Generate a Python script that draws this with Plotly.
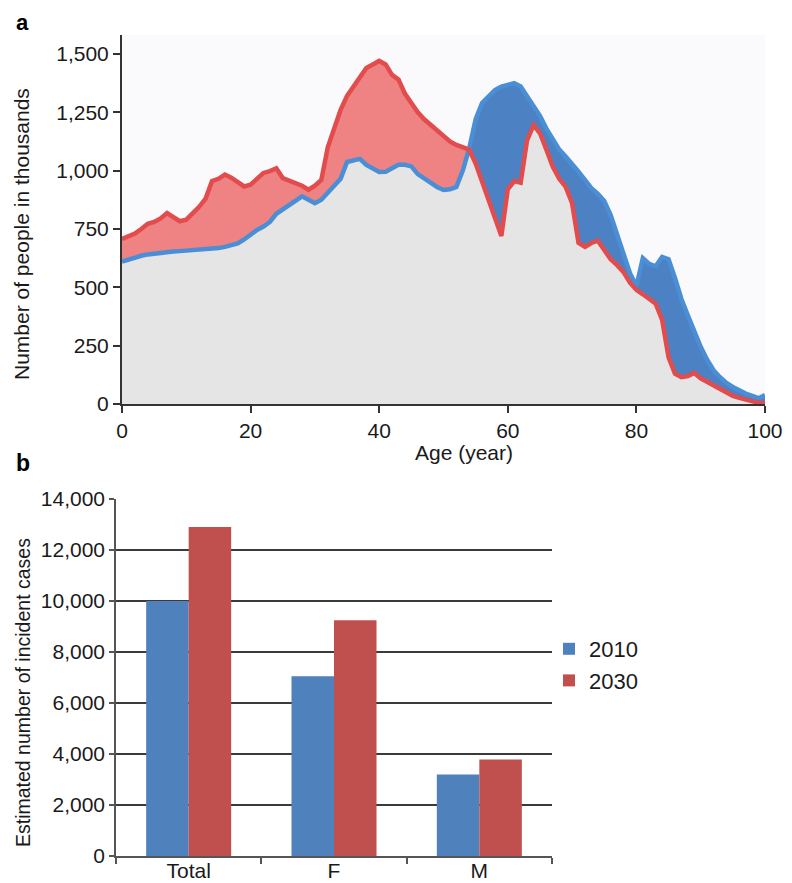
import numpy as np
import plotly.graph_objects as go

# ---------------- Data ----------------
ages = list(range(0, 101))

pop_2010 = [610, 620, 628, 635, 641, 645, 648, 651, 653, 655,
            657, 658, 660, 662, 665, 668, 673, 680, 688, 705,
            728, 746, 760, 780, 815, 835, 850, 870, 890, 875,
            860, 875, 905, 935, 965, 1037, 1045, 1050, 1024, 1010,
            994, 995, 1010, 1025, 1025, 1018, 985, 965, 950, 930,
            917, 920, 930, 1000, 1095, 1220, 1290, 1320, 1345, 1360,
            1370, 1375, 1360, 1320, 1280, 1235, 1180, 1131, 1090, 1060,
            1030, 995, 960, 925, 900, 870, 810, 730, 650, 560,
            505, 625, 600, 590, 630, 620, 540, 450, 380, 310,
            245, 190, 145, 115, 90, 73, 58, 45, 35, 25,
            38]

pop_2030 = [707, 718, 730, 750, 772, 780, 795, 818, 800, 783,
            790, 815, 845, 880, 955, 965, 983, 970, 950, 932,
            940, 965, 990, 998, 1010, 968, 958, 950, 935, 918,
            935, 960, 1100, 1180, 1260, 1320, 1360, 1400, 1440, 1455,
            1470, 1455, 1410, 1390, 1330, 1290, 1250, 1220, 1195, 1170,
            1145, 1125, 1110, 1100, 1090, 1030, 950, 870, 790, 720,
            920, 955, 948, 1130, 1195, 1160, 1090, 1016, 965, 930,
            860, 690, 673, 690, 700, 660, 620, 595, 565, 520,
            489, 470, 450, 430, 360, 200, 130, 115, 120, 133,
            110, 94, 80, 62, 48, 35, 26, 18, 10, 5,
            3]

age_ticks = [0, 20, 40, 60, 80, 100]
pop_ticks = [0, 250, 500, 750, 1000, 1250, 1500]

groups = ["Total", "F", "M"]
cases_2010 = [10000, 7050, 3200]
cases_2030 = [12900, 9250, 3780]
case_ticks = [0, 2000, 4000, 6000, 8000, 10000, 12000, 14000]

# ---------------- Layout helpers ----------------
# the page body adds an 8px margin, so the figure is offset by 8px
OFF = 8
W, H = 792 - OFF, 883 - OFF
def px(x):
    return (x - OFF) / W
def py(y):
    return 1 - (y - OFF) / H

FONT = "Liberation Sans, Arial, Helvetica, sans-serif"

RED_FILL = "#ef8282"
RED_LINE = "#e24c4c"
BLUE_FILL = "#4c82c4"
BLUE_LINE = "#4a8ed6"
GRAY_FILL = "#e5e5e5"

BAR_BLUE = "#4f81bd"
BAR_RED = "#c0504d"

a2010 = np.array(pop_2010, dtype=float)
a2030 = np.array(pop_2030, dtype=float)
hi = np.maximum(a2010, a2030)
lo = np.minimum(a2010, a2030)

fig = go.Figure()

fig.add_trace(go.Scatter(x=ages, y=lo, mode="lines", line=dict(width=0),
                         fill="tozeroy", fillcolor=GRAY_FILL,
                         showlegend=False, hoverinfo="skip",
                         xaxis="x", yaxis="y"))
fig.add_trace(go.Scatter(x=ages, y=a2010, mode="lines", line=dict(width=0),
                         showlegend=False, hoverinfo="skip",
                         xaxis="x", yaxis="y"))
fig.add_trace(go.Scatter(x=ages, y=hi, mode="lines", line=dict(width=0),
                         fill="tonexty", fillcolor=RED_FILL,
                         showlegend=False, hoverinfo="skip",
                         xaxis="x", yaxis="y"))
fig.add_trace(go.Scatter(x=ages, y=a2030, mode="lines", line=dict(width=0),
                         showlegend=False, hoverinfo="skip",
                         xaxis="x", yaxis="y"))
fig.add_trace(go.Scatter(x=ages, y=hi, mode="lines", line=dict(width=0),
                         fill="tonexty", fillcolor=BLUE_FILL,
                         showlegend=False, hoverinfo="skip",
                         xaxis="x", yaxis="y"))
fig.add_trace(go.Scatter(x=ages, y=a2010, mode="lines",
                         line=dict(color=BLUE_LINE, width=4.5),
                         showlegend=False, name="2010",
                         xaxis="x", yaxis="y"))
fig.add_trace(go.Scatter(x=ages, y=a2030, mode="lines",
                         line=dict(color=RED_LINE, width=4.5),
                         showlegend=False, name="2030",
                         xaxis="x", yaxis="y"))

fig.add_trace(go.Bar(x=groups, y=cases_2010, name="2010",
                     marker=dict(color=BAR_BLUE, line=dict(width=0)),
                     xaxis="x2", yaxis="y2"))
fig.add_trace(go.Bar(x=groups, y=cases_2030, name="2030",
                     marker=dict(color=BAR_RED, line=dict(width=0)),
                     xaxis="x2", yaxis="y2"))

fig.update_layout(
    width=W, height=H,
    margin=dict(l=0, r=0, t=0, b=0),
    paper_bgcolor="white",
    plot_bgcolor="white",
    font=dict(family=FONT, color="#1a1a1a"),
    barmode="group",
    bargap=0.415,
    bargroupgap=0,
    showlegend=True,
    legend=dict(x=px(549), y=py(665), xanchor="left", yanchor="middle",
                traceorder="normal",
                font=dict(size=22, family=FONT, color="#1a1a1a"),
                bgcolor="rgba(0,0,0,0)", tracegroupgap=0, itemwidth=30),
    xaxis=dict(domain=[px(122), px(765)], range=[0, 100], automargin=False,
               tickvals=age_ticks, ticktext=[str(t) for t in age_ticks],
               ticks="outside", ticklen=7, tickwidth=2, tickcolor="#333",
               showline=True, linecolor="#333", linewidth=2,
               showgrid=False, zeroline=False,
               tickfont=dict(size=21, family=FONT, color="#1a1a1a"),
               anchor="y"),
    yaxis=dict(domain=[py(404), py(35)], range=[0, 1581], automargin=False,
               tickvals=pop_ticks, ticktext=[f"{t:,}" for t in pop_ticks],
               ticks="outside", ticklen=7, tickwidth=2, tickcolor="#333",
               showline=True, linecolor="#333", linewidth=2,
               showgrid=False, zeroline=False,
               tickfont=dict(size=21, family=FONT, color="#1a1a1a"),
               anchor="x"),
    xaxis2=dict(domain=[px(116), px(552)], type="category", automargin=False,
                ticks="outside", tickson="boundaries", ticklen=6,
                tickwidth=1.5, tickcolor="#555",
                showline=True, linecolor="#555", linewidth=1.5,
                showgrid=False, zeroline=False, ticklabelstandoff=-5,
                tickfont=dict(size=21, family=FONT, color="#1a1a1a"),
                anchor="y2"),
    yaxis2=dict(domain=[py(856), py(499)], range=[0, 14000], automargin=False,
                tickvals=case_ticks, ticktext=[f"{t:,}" for t in case_ticks],
                ticks="outside", ticklen=5, tickwidth=1.5, tickcolor="#555",
                showline=True, linecolor="#555", linewidth=1.5,
                showgrid=True, gridcolor="#3a3a3a", gridwidth=1.5,
                zeroline=False,
                tickfont=dict(size=21, family=FONT, color="#1a1a1a"),
                anchor="x2"),
    shapes=[dict(type="rect", xref="x domain", yref="y domain",
                 x0=0, x1=1, y0=0, y1=1, fillcolor="#faf9fb",
                 line=dict(width=0), layer="below")],
)

annotations = [
    dict(text="<b>a</b>", x=px(14), y=1, xanchor="left", yanchor="top",
         font=dict(size=22, family=FONT, color="#000")),
    dict(text="<b>b</b>", x=px(14), y=py(463), xanchor="left", yanchor="middle",
         font=dict(size=23, family=FONT, color="#000")),
    dict(text="Number of people in thousands", x=px(22), y=py(234),
         textangle=-90, xanchor="center", yanchor="middle",
         font=dict(size=21, family=FONT, color="#1a1a1a")),
    dict(text="Age (year)", x=px(464), y=py(452), xanchor="center", yanchor="middle",
         font=dict(size=21, family=FONT, color="#1a1a1a")),
    dict(text="Estimated number of incident cases", x=px(23), y=py(693),
         textangle=-90, xanchor="center", yanchor="middle",
         font=dict(size=19.5, family=FONT, color="#1a1a1a")),
]
for a in annotations:
    a.update(xref="paper", yref="paper", showarrow=False)
fig.update_layout(annotations=annotations)

fig.write_html("out.html")
